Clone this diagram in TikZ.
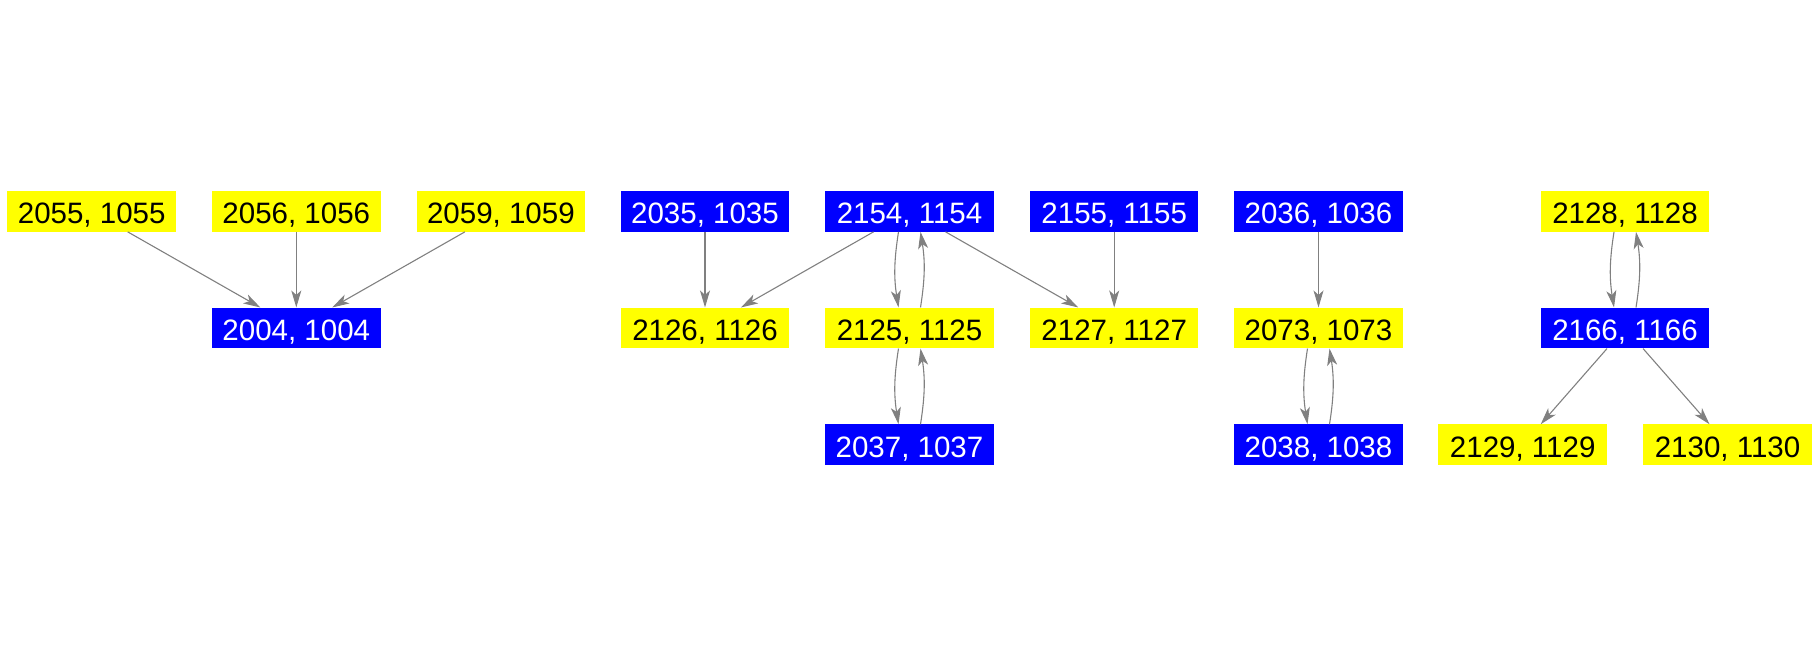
\documentclass[tikz,border=0pt]{standalone}
\usepackage{fontspec}
\setmainfont{Liberation Sans}
\usetikzlibrary{arrows.meta}
\definecolor{edgegray}{RGB}{128,128,128}
\definecolor{nodeblue}{RGB}{0,0,255}
\definecolor{nodeyellow}{RGB}{255,255,0}
\tikzset{
  box/.style={minimum width=168.5pt, minimum height=40.7pt, inner sep=0pt,
    font=\fontsize{29.5}{29.5}\selectfont, text height=25.1pt, text depth=0pt},
  bnode/.style={box, fill=nodeblue, text=white},
  ynode/.style={box, fill=nodeyellow, text=black},
  edge/.style={draw=edgegray, line width=1.1pt, -{Stealth[length=17pt,width=10pt,inset=4.5pt]}},
  curvededge/.style={edge, bend right=9},
}
\begin{document}
\begin{tikzpicture}[x=1pt,y=-1pt]
\useasboundingbox (0,0) rectangle (1817,656);
% component 1
\node[ynode] (a2055) at (91.7,211.3) {2055, 1055};
\node[ynode] (a2056) at (296.3,211.3) {2056, 1056};
\node[ynode] (a2059) at (500.9,211.3) {2059, 1059};
\node[bnode] (a2004) at (296.3,328) {2004, 1004};
% component 2
\node[bnode] (a2035) at (705,211.3) {2035, 1035};
\node[bnode] (a2154) at (909.5,211.3) {2154, 1154};
\node[bnode] (a2155) at (1114.2,211.3) {2155, 1155};
\node[ynode] (a2126) at (705,328) {2126, 1126};
\node[ynode] (a2125) at (909.5,328) {2125, 1125};
\node[ynode] (a2127) at (1114.2,328) {2127, 1127};
\node[bnode] (a2037) at (909.5,444.8) {2037, 1037};
% component 3
\node[bnode] (a2036) at (1318.5,211.3) {2036, 1036};
\node[ynode] (a2073) at (1318.5,328) {2073, 1073};
\node[bnode] (a2038) at (1318.5,444.8) {2038, 1038};
% component 4
\node[ynode] (a2128) at (1625,211.3) {2128, 1128};
\node[bnode] (a2166) at (1625,328) {2166, 1166};
\node[ynode] (a2129) at (1522.7,444.8) {2129, 1129};
\node[ynode] (a2130) at (1727.5,444.8) {2130, 1130};
% edges
\draw[edge] (a2055) -- (a2004);
\draw[edge] (a2056) -- (a2004);
\draw[edge] (a2059) -- (a2004);
\draw[edge] (a2035) -- (a2126);
\draw[edge] (a2154) -- (a2126);
\draw[edge] (a2154) -- (a2127);
\draw[edge] (a2155) -- (a2127);
\draw[curvededge] ([xshift=-11pt]a2154.south) to ([xshift=-11pt]a2125.north);
\draw[curvededge] ([xshift=11pt]a2125.north) to ([xshift=11pt]a2154.south);
\draw[curvededge] ([xshift=-11pt]a2125.south) to ([xshift=-11pt]a2037.north);
\draw[curvededge] ([xshift=11pt]a2037.north) to ([xshift=11pt]a2125.south);
\draw[edge] (a2036) -- (a2073);
\draw[curvededge] ([xshift=-11pt]a2073.south) to ([xshift=-11pt]a2038.north);
\draw[curvededge] ([xshift=11pt]a2038.north) to ([xshift=11pt]a2073.south);
\draw[curvededge] ([xshift=-11pt]a2128.south) to ([xshift=-11pt]a2166.north);
\draw[curvededge] ([xshift=11pt]a2166.north) to ([xshift=11pt]a2128.south);
\draw[edge] (a2166) -- (a2129);
\draw[edge] (a2166) -- (a2130);
\end{tikzpicture}
\end{document}
